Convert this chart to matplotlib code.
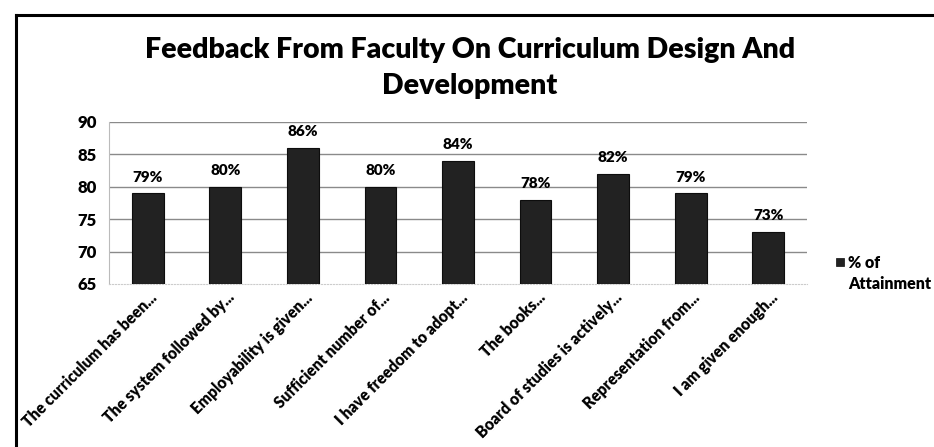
import matplotlib
matplotlib.use("Agg")
import matplotlib.pyplot as plt
from matplotlib.patches import Rectangle
from matplotlib.lines import Line2D
from matplotlib.transforms import ScaledTranslation

categories = [
    "The curriculum has been...",
    "The system followed by...",
    "Employability is given...",
    "Sufficient number of...",
    "I have freedom to adopt...",
    "The books...",
    "Board of studies is actively...",
    "Representation from...",
    "I am given enough...",
]
values = [79, 80, 86, 80, 84, 78, 82, 79, 73]
labels = ["79%", "80%", "86%", "80%", "84%", "78%", "82%", "79%", "73%"]
yticks = [65, 70, 75, 80, 85, 90]
series_name = "% of\nAttainment"
title = "Feedback From Faculty On Curriculum Design And\nDevelopment"

FONT = ["Lato", "DejaVu Sans"]
plt.rcParams["font.family"] = FONT

W, H = 934, 447
fig = plt.figure(figsize=(W / 100, H / 100), dpi=100)
fig.patch.set_facecolor("white")

# outer frame lines (top and left only visible)
fig.add_artist(Line2D([16 / W, 1.0], [1 - 15 / H, 1 - 15 / H], transform=fig.transFigure,
                      color="black", lw=2.2))
fig.add_artist(Line2D([16 / W, 16 / W], [0, 1 - 15 / H], transform=fig.transFigure,
                      color="black", lw=2.2))

left, right = 109, 807
top, bottom = 122, 284
ax = fig.add_axes([left / W, 1 - bottom / H, (right - left) / W, (bottom - top) / H])
x = list(range(len(categories)))
ax.bar(x, [v - 65 for v in values], bottom=65, width=0.41, color="#222222",
       edgecolor="#0d0d0d", linewidth=0.8, zorder=3)
ax.set_ylim(65, 90)
ax.set_xlim(-0.5, len(categories) - 0.5)
ax.set_yticks(yticks)
ax.set_yticklabels([str(t) for t in yticks], fontsize=12, fontweight="heavy")
ax.tick_params(axis="y", length=0, pad=9)
ax.set_xticks(x)
ax.set_xticklabels(categories, rotation=45, ha="right", va="center",
                   rotation_mode="anchor", fontsize=11.2, fontweight="heavy")
ax.tick_params(axis="x", length=0, pad=8)
shift = ScaledTranslation(7 / 100, 0, fig.dpi_scale_trans)
for lab in ax.get_xticklabels():
    lab.set_transform(lab.get_transform() + shift)
for t in yticks[1:]:
    ax.axhline(t, color="#8a8a8a", lw=1.0, zorder=1)
for s in ["top", "right"]:
    ax.spines[s].set_visible(False)
ax.spines["left"].set_color("#bbbbbb")
ax.spines["left"].set_linewidth(0.8)
ax.spines["bottom"].set_color("#cccccc")
ax.spines["bottom"].set_linestyle(":")
ax.spines["bottom"].set_linewidth(0.8)

for xi, v, lab in zip(x, values, labels):
    ax.annotate(lab, (xi, v), xytext=(0, 7), textcoords="offset points",
                ha="center", va="bottom", fontsize=11, fontweight="heavy")

fig.text(470 / W, 1 - 68 / H, title, ha="center", va="center", fontsize=20.5,
         fontweight="heavy", linespacing=1.45)

# legend
fig.add_artist(Rectangle((836 / W, 1 - 266 / H), 8 / W, 8 / H, transform=fig.transFigure,
                         facecolor="#222222", edgecolor="#0d0d0d", lw=0.5))
fig.text(848 / W, 1 - 255 / H, series_name, ha="left", va="top", fontsize=11.5,
         fontweight="heavy", linespacing=1.35)

fig.savefig("out.png", dpi=100, facecolor="white")
